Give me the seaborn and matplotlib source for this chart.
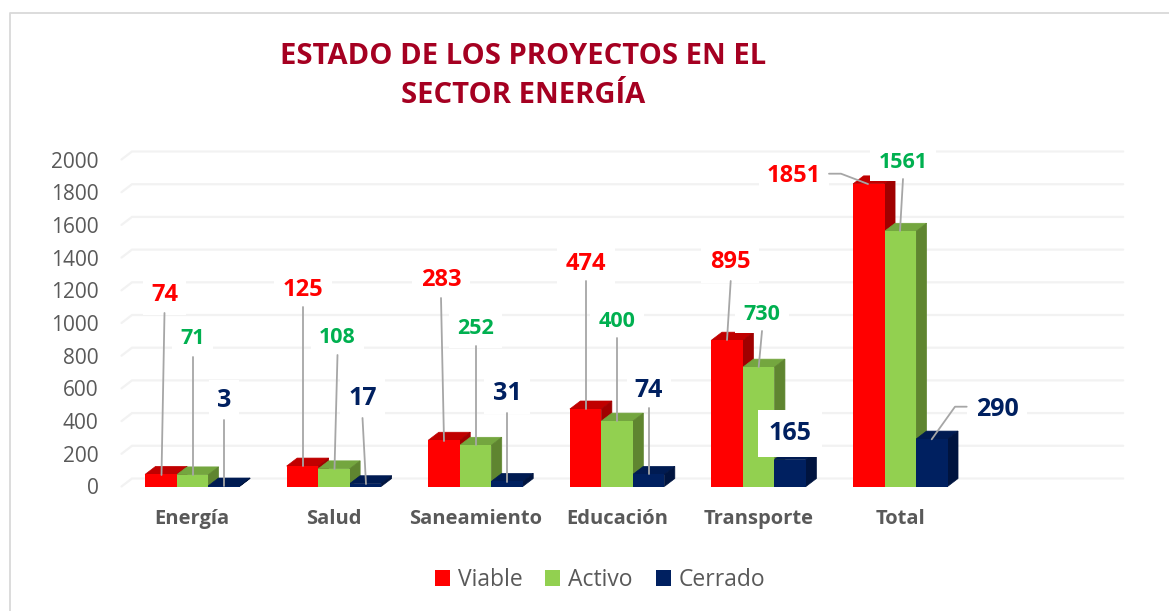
import pandas as pd
import matplotlib
matplotlib.use("Agg")
import matplotlib.pyplot as plt
import seaborn as sns
from matplotlib.lines import Line2D

categorias = ["Energía", "Salud", "Saneamiento", "Educación", "Transporte", "Total"]
viable = [74, 125, 283, 474, 895, 1851]
activo = [71, 108, 252, 400, 730, 1561]
cerrado = [3, 17, 31, 74, 165, 290]
estados = ["Viable", "Activo", "Cerrado"]

# front, top, side colour per series
colores = {"Viable": ("#FF0000", "#C00000", "#A00000"),
           "Activo": ("#92D050", "#74A63F", "#5F8530"),
           "Cerrado": ("#002060", "#001B52", "#00143F")}
color_label = {"Viable": "#FF0000", "Activo": "#00B050", "Cerrado": "#002060"}
size_label = {"Viable": 17, "Activo": 15.5, "Cerrado": 18}

W, H = 1169, 611
AX_L, AX_R, AX_B, AX_T = 121.5, 1112.7, 486.5, 159.5
PX_X = (AX_R - AX_L) / 7
PX_Y = (AX_B - AX_T) / 2000
DX = 10.5 / PX_X  # depth of the fake 3d
DY = 8 / PX_Y


def data_xy(px, py):
    return (px - AX_L) / PX_X - 0.5, (AX_B - py) / PX_Y


sns.set_style("white")
plt.rcParams["font.family"] = ["Open Sans", "DejaVu Sans"]

df = pd.DataFrame({
    "categoria": categorias * 3,
    "estado": [e for e in estados for _ in categorias],
    "valor": viable + activo + cerrado,
})

fig = plt.figure(figsize=(W / 100, H / 100), dpi=100)
ax = fig.add_axes([AX_L / W, 1 - AX_B / H, (AX_R - AX_L) / W, (AX_B - AX_T) / H])

sns.barplot(data=df, x="categoria", y="valor", hue="estado", hue_order=estados,
            order=categorias + [""], palette={e: colores[e][0] for e in estados},
            width=0.667, gap=0, saturation=1, errorbar=None, ax=ax, zorder=4, linewidth=0)

ax.set_xlim(-0.5, 6.5)
ax.set_ylim(0, 2000)
ax.set_yticks(range(0, 2001, 200))
ax.set_xlabel("")
ax.set_ylabel("")
ax.tick_params(axis="y", length=0, pad=16.5, labelsize=15, labelcolor="#595959")
ax.tick_params(axis="x", length=0, pad=16, labelsize=14.5, labelcolor="#595959")
for t in ax.get_xticklabels():
    t.set_fontweight("bold")
sns.despine(ax=ax, left=True, bottom=True)

# back wall gridlines
for v in range(0, 2001, 200):
    ax.plot([-0.5, -0.5 + DX, 6.5 + DX], [v, v + DY, v + DY], color="#F2F2F2",
            lw=1.6, zorder=1, clip_on=False, solid_joinstyle="miter")

# depth faces, left to right so the next bar covers the previous side
for cont, estado in zip(ax.containers, estados):
    _, top, side = colores[estado]
    for bar in cont:
        x0, x1, h = bar.get_x(), bar.get_x() + bar.get_width(), bar.get_height()
        ax.fill([x0, x0 + DX, x1 + DX, x1], [h, h + DY, h + DY, h], color=top, lw=0.5,
                zorder=3, clip_on=False)
        ax.fill([x1, x1 + DX, x1 + DX, x1], [0, DY, h + DY, h], color=side, lw=0.5,
                zorder=3, clip_on=False)

# label centre and leader line, in picture pixels
etiquetas = [
    ("74", "Viable", (164.5, 295), [(164.5, 313), (161.5, 475)]),
    ("71", "Activo", (192.5, 339), [(192.5, 356.5), (192.5, 475)]),
    ("3", "Cerrado", (224, 400.5), [(224, 420), (224, 486)]),
    ("125", "Viable", (303, 289.5), [(303, 307), (303, 466)]),
    ("108", "Activo", (337.5, 337.5), [(337.5, 355), (334.5, 469)]),
    ("17", "Cerrado", (362.5, 398.5), [(362.5, 418), (366, 484)]),
    ("283", "Viable", (441, 280.5), [(441, 298), (444, 441)]),
    ("252", "Activo", (475.5, 329), [(475.5, 346), (475.5, 445)]),
    ("31", "Cerrado", (507, 393.5), [(507, 413), (507, 482)]),
    ("474", "Viable", (586, 263.5), [(586, 281), (586, 409)]),
    ("400", "Activo", (617, 321.5), [(617, 338), (617, 421)]),
    ("74", "Cerrado", (649, 390.5), [(649, 408), (649, 474)]),
    ("895", "Viable", (730, 262.5), [(730.7, 281), (727, 340)]),
    ("730", "Activo", (761.7, 314.2), [(762, 331), (758.7, 367)]),
    ("165", "Cerrado", (790, 433), []),
    ("1851", "Viable", (794, 176.5), [(829, 173.7), (841, 173.7), (868, 184)]),
    ("1561", "Activo", (903, 162.5), [(903, 179), (900, 231)]),
    ("290", "Cerrado", (997, 409.5), [(966.7, 406.7), (955, 406.7), (931.7, 439.3)]),
]
for texto, estado, centro, guia in etiquetas:
    x, y = data_xy(*centro)
    pad = 8 if texto == "165" else 6
    ax.text(x, y, texto, color=color_label[estado], fontsize=size_label[estado], fontweight="bold",
            ha="center", va="center", zorder=6, clip_on=False,
            bbox=dict(facecolor="white", edgecolor="none", pad=pad))
    if guia:
        xs, ys = zip(*[data_xy(*p) for p in guia])
        ax.plot(xs, ys, color="#A6A6A6", lw=1.3, zorder=7, clip_on=False)

# legend
sns.move_legend(ax, "center", bbox_to_anchor=((600 - AX_L) / (AX_R - AX_L), (AX_B - 580) / (AX_B - AX_T)),
                ncol=3, title=None, frameon=False, fontsize=16.5, labelcolor="#595959",
                handlelength=0.65, handleheight=0.65, handletextpad=0.35, columnspacing=1.0)

# chart frame, only left and top show in the crop
fig.add_artist(Line2D([9.5 / W, 9.5 / W, 1], [0, 1 - 12.5 / H, 1 - 12.5 / H], color="#D9D9D9", lw=1.3))

fig.text(523 / W, 1 - 76 / H, "ESTADO DE LOS PROYECTOS EN EL\nSECTOR ENERGÍA", color="#A50021",
         fontsize=21, fontweight="bold", ha="center", va="center", linespacing=1.42)

fig.savefig("out.png", dpi=100)
